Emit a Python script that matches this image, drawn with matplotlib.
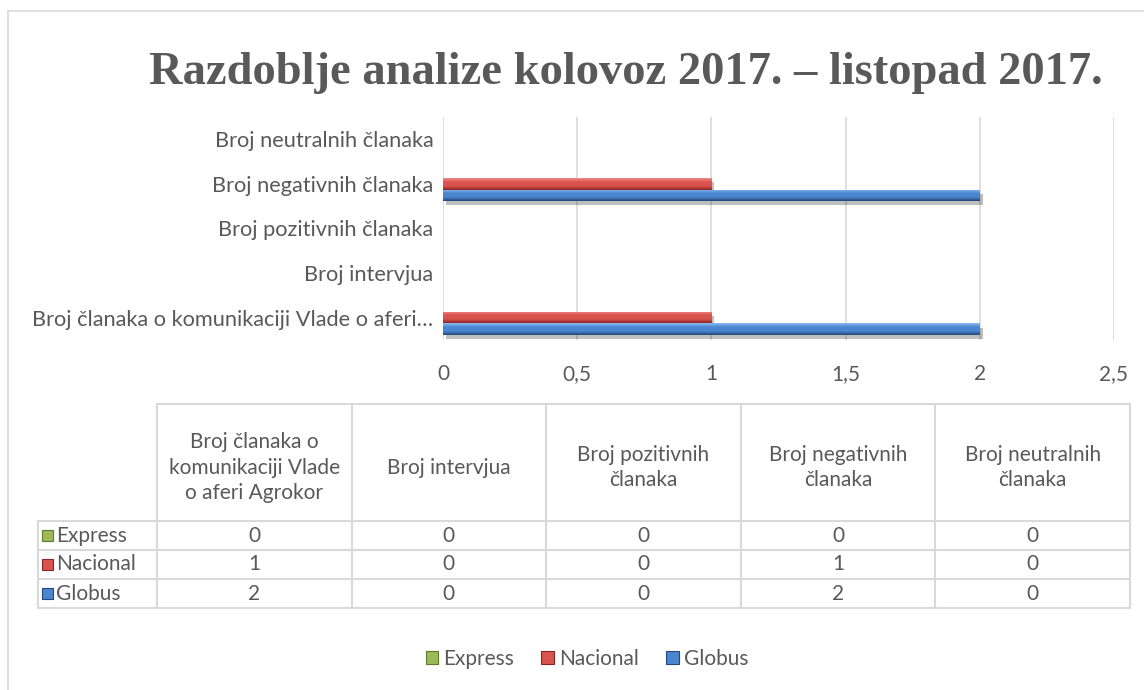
"""Razdoblje analize kolovoz 2017. - listopad 2017. (bar chart with data table)."""
import textwrap

import numpy as np
import matplotlib
matplotlib.use("Agg")
import matplotlib.pyplot as plt
from matplotlib.colors import LinearSegmentedColormap
from matplotlib.patches import Rectangle, Patch
from matplotlib.lines import Line2D
import matplotlib.patheffects as pe

# ---- data ----
title = "Razdoblje analize kolovoz 2017. – listopad 2017."
categories = [
    "Broj članaka o komunikaciji Vlade o aferi Agrokor",
    "Broj intervjua",
    "Broj pozitivnih članaka",
    "Broj negativnih članaka",
    "Broj neutralnih članaka",
]
series_names = ["Express", "Nacional", "Globus"]
express = [0, 0, 0, 0, 0]
nacional = [1, 0, 0, 1, 0]
globus = [2, 0, 0, 2, 0]
x_ticks = [0, 0.5, 1, 1.5, 2, 2.5]

# ---- style ----
W, H = 1144, 690
TXT = "#595959"
GRID = "#d9d9d9"
FONT = "Lato"
FS = 15
colors = {
    "Express": ("#c6e08a", "#9bbb59", "#5f7a2a"),
    "Nacional": ("#f28a88", "#d9534f", "#8c2422"),
    "Globus": ("#8cbcf0", "#4a86cf", "#23487a"),
}


def px(x, y):
    """pixel (from top-left) -> figure fraction"""
    return x / W, 1 - y / H


def short(label, n=41):
    return label if len(label) <= n + 4 else label[:n] + "…"


fig = plt.figure(figsize=(W / 100, H / 100), dpi=100)
fig.patch.set_facecolor("white")

# chart border (left + top visible)
fig.add_artist(Line2D([px(8, 0)[0], px(8, 0)[0]], [px(0, 11)[1], 0],
                      color=GRID, lw=1.2))
fig.add_artist(Line2D([px(8, 0)[0], 1], [px(0, 11)[1], px(0, 11)[1]],
                      color=GRID, lw=1.2))

fig.text(*px(626, 73), title, ha="center", va="center",
         family="Liberation Serif", weight="bold", fontsize=33.5, color=TXT)

# ---- bar chart ----
left, top = px(443, 117)
right, bottom = px(1114, 340)
ax = fig.add_axes([left, bottom, right - left, top - bottom])

y = np.arange(len(categories))
bh = 0.26
offsets = {"Express": bh, "Nacional": 0.0, "Globus": -bh}
values = {"Express": express, "Nacional": nacional, "Globus": globus}

grad = np.linspace(0, 1, 64).reshape(-1, 1)
for name in series_names:
    light, mid, dark = colors[name]
    cmap = LinearSegmentedColormap.from_list(
        name, [light, mid, mid, dark], N=256)
    bars = ax.barh(y + offsets[name], values[name], height=bh,
                   color=mid, edgecolor="none", zorder=3)
    for b in bars:
        if b.get_width() <= 0:
            continue
        b.set_path_effects([pe.SimplePatchShadow(offset=(2, -3),
                                                 shadow_rgbFace="#000000",
                                                 alpha=0.25),
                            pe.Normal()])
        x0, y0 = b.get_x(), b.get_y()
        im = ax.imshow(grad, cmap=cmap, aspect="auto", zorder=4,
                       extent=[x0, x0 + b.get_width(),
                               y0, y0 + b.get_height()],
                       origin="upper", interpolation="bilinear")
        im.set_clip_path(b)

ax.set_xlim(0, 2.5)
ax.set_ylim(-0.5, len(categories) - 0.5)
ax.set_xticks(x_ticks)
ax.set_xticklabels([f"{t:g}".replace(".", ",") for t in x_ticks])
ax.set_yticks(y)
ax.set_yticklabels([short(c) for c in categories])
ax.grid(axis="x", color=GRID, lw=1.2, zorder=0)
ax.set_axisbelow(True)
for s in ax.spines.values():
    s.set_visible(False)
ax.tick_params(length=0, labelsize=FS, labelcolor=TXT)
ax.tick_params(axis="x", pad=17)
ax.tick_params(axis="y", pad=7, labelsize=15.7)
for lab in ax.get_xticklabels() + ax.get_yticklabels():
    lab.set_family(FONT)

# ---- data table ----
tx0, tx1 = 38, 1130
col0 = 157
col_w = (tx1 - col0) / len(categories)
hdr_top, hdr_bot = 404, 521
row_h = 29
table_rows = [("Express", express), ("Nacional", nacional), ("Globus", globus)]
tbot = hdr_bot + row_h * len(table_rows)


def hline(x0, x1, yy):
    fig.add_artist(Line2D([px(x0, 0)[0], px(x1, 0)[0]],
                          [px(0, yy)[1], px(0, yy)[1]], color=GRID, lw=1.5))


def vline(xx, y0, y1):
    fig.add_artist(Line2D([px(xx, 0)[0], px(xx, 0)[0]],
                          [px(0, y0)[1], px(0, y1)[1]], color=GRID, lw=1.5))


hline(col0, tx1, hdr_top)
for i in range(len(table_rows) + 1):
    hline(tx0, tx1, hdr_bot + i * row_h)
vline(tx0, hdr_bot, tbot)
for j in range(len(categories) + 1):
    vline(col0 + j * col_w, hdr_top, tbot)

for j, cat in enumerate(categories):
    cx = col0 + (j + 0.5) * col_w
    fig.text(*px(cx, (hdr_top + hdr_bot) / 2 + 5), textwrap.fill(cat, 18),
             ha="center", va="center", fontsize=FS, color=TXT,
             family=FONT, linespacing=1.32)

for i, (name, vals) in enumerate(table_rows):
    cy = hdr_bot + (i + 0.5) * row_h
    light, mid, dark = colors[name]
    sx, sy = px(42, cy + 5.5)
    fig.add_artist(Rectangle((sx, sy), 11 / W, 11 / H, facecolor=mid,
                             edgecolor=dark, lw=0.8,
                             transform=fig.transFigure))
    fig.text(*px(56, cy), name, ha="left", va="center", fontsize=FS,
             color=TXT, family=FONT)
    for j, v in enumerate(vals):
        cx = col0 + (j + 0.5) * col_w
        fig.text(*px(cx, cy), f"{v:g}", ha="center", va="center",
                 fontsize=FS, color=TXT, family=FONT)

# ---- legend ----
handles = [Patch(facecolor=colors[n][1], edgecolor=colors[n][2], lw=0.8,
                 label=n) for n in series_names]
fig.legend(handles=handles, loc="center", bbox_to_anchor=px(587, 659),
           ncol=3, frameon=False, handlelength=0.6, handleheight=0.6,
           handletextpad=0.25, columnspacing=1.3,
           prop={"family": FONT, "size": FS}, labelcolor=TXT)

fig.savefig("out.png", dpi=100, facecolor="white")
